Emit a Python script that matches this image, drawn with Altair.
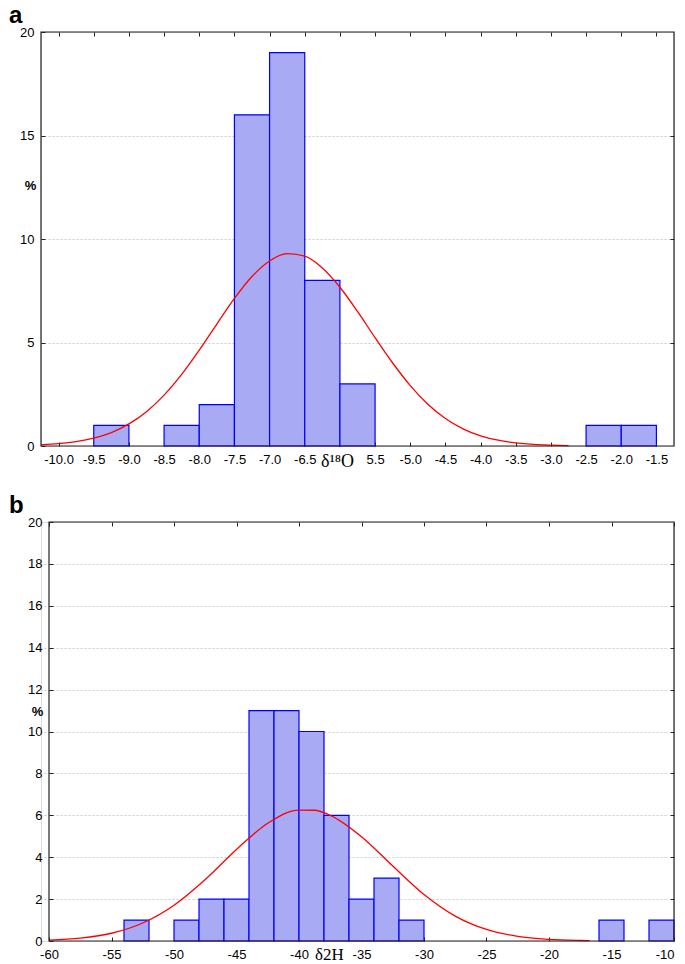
import altair as alt
import pandas as pd

# ---------------- panel a : δ18O ----------------
a_bin_start = [-9.5, -9.0, -8.5, -8.0, -7.5, -7.0, -6.5, -6.0, -5.5, -5.0,
               -4.5, -4.0, -3.5, -3.0, -2.5, -2.0]
a_counts = [1, 0, 1, 2, 16, 19, 8, 3, 0, 0, 0, 0, 0, 0, 1, 1]
a_bin_width = 0.5
a_curve_x = [-10.25, -10.0, -9.75, -9.5, -9.25, -9.0, -8.75, -8.5, -8.25, -8.0,
             -7.75, -7.5, -7.25, -7.0, -6.75, -6.5, -6.25, -6.0, -5.75, -5.5,
             -5.25, -5.0, -4.75, -4.5, -4.25, -4.0, -3.75, -3.5, -3.25, -3.0, -2.75]
a_curve_y = [0.055, 0.11, 0.21, 0.38, 0.65, 1.07, 1.66, 2.46, 3.46, 4.63,
             5.89, 7.13, 8.19, 8.94, 9.29, 9.17, 8.60, 7.67, 6.50, 5.23,
             4.01, 2.92, 2.02, 1.33, 0.83, 0.49, 0.28, 0.15, 0.076, 0.04, 0.02]
a_xticks = [-10.0, -9.5, -9.0, -8.5, -8.0, -7.5, -7.0, -6.5, -6.0, -5.5,
            -5.0, -4.5, -4.0, -3.5, -3.0, -2.5, -2.0, -1.5]
a_yticks = [0, 5, 10, 15, 20]
a_ygrid = [5, 10, 15]
a_xdomain = [-10.25, -1.25]

# ---------------- panel b : δ2H ----------------
b_bin_start = [-54, -52, -50, -48, -46, -44, -42, -40, -38, -36, -34, -32,
               -30, -28, -26, -24, -22, -20, -18, -16, -14, -12]
b_counts = [1, 0, 1, 2, 2, 11, 11, 10, 6, 2, 3, 1,
            0, 0, 0, 0, 0, 0, 0, 1, 0, 1]
b_bin_width = 2
b_curve_x = [-60, -57.5, -55, -52.5, -50, -47.5, -45, -42.5, -40, -38.75,
             -37.5, -35, -32.5, -30, -27.5, -25, -22.5, -20, -17.5, -16.75]
b_curve_y = [0.045, 0.14, 0.37, 0.86, 1.71, 2.94, 4.37, 5.62, 6.25, 6.24,
             6.0, 4.98, 3.58, 2.22, 1.19, 0.55, 0.22, 0.077, 0.023, 0.014]
b_xticks = [-60, -55, -50, -45, -40, -35, -30, -25, -20, -15, -10]
b_yticks = [0, 2, 4, 6, 8, 10, 12, 14, 16, 18, 20]
b_ygrid = [2, 4, 6, 8, 10, 12, 14, 16, 18]
b_xdomain = [-60, -10]

FILL = "#a9aaf4"
EDGE = "#0000ff"
FRAME = "#222222"
SANS = "Liberation Sans"
SERIF = "Liberation Serif"
GROUP_W = 633


def panel(starts, counts, bw, cx, cy, xdom, xrange, xticks, yticks, ygrid, h,
          label_expr, label_align, xtitle, xtitle_size, title_x, title_y,
          pct_x, pct_y, letter):
    bars = pd.DataFrame({"x0": starts,
                         "x1": [s + bw for s in starts],
                         "n": counts})
    bars = bars[bars["n"] > 0].copy()
    bars["zero"] = 0
    curve = pd.DataFrame({"x": cx, "y": cy})
    frame = pd.DataFrame({"x0": [xdom[0]], "x1": [xdom[1]],
                          "y0": [0], "y1": [20]})

    xs = alt.Scale(domain=xdom, range=xrange, nice=False, zero=False)
    ys = alt.Scale(domain=[0, 20], nice=False, zero=False)
    left_off = xrange[0] + 4

    bottom_axis = alt.Axis(
        orient="bottom", values=xticks, offset=-4, tickSize=4, minExtent=0,
        tickColor=FRAME, domain=False, grid=False,
        labelExpr=label_expr, labelFlush=False, labelOverlap=False,
        labelAlign=label_align,
        labelPadding=7, labelFont=SANS, labelFontSize=13, labelColor="#000000",
        title=xtitle, titleFont=SERIF, titleFontSize=xtitle_size,
        titleFontWeight="normal", titleColor="#000000",
        titleX=title_x, titleY=title_y, titleAlign="center",
        titleBaseline="alphabetic",
    )
    left_axis = alt.Axis(
        orient="left", values=yticks, offset=-left_off, tickSize=4, minExtent=0,
        tickColor=FRAME, domain=False, grid=False,
        labelPadding=7, labelFont=SANS, labelFontSize=13, labelColor="#000000",
        title="%", titleAngle=0, titleFont=SANS, titleFontSize=13,
        titleFontWeight="bold", titleColor="#000000",
        titleX=pct_x - left_off, titleY=pct_y, titleAlign="center",
        titleBaseline="middle",
    )
    top_axis = alt.Axis(
        orient="top", values=xticks, offset=-4, tickSize=4, minExtent=0,
        tickColor=FRAME, domain=False, grid=False, labels=False, title=None,
    )
    right_axis = alt.Axis(
        orient="right", values=ygrid, offset=-4, tickSize=4, minExtent=0,
        tickColor=FRAME, domain=False, labels=False, title=None,
        grid=True, gridColor="#cccccc", gridDash=[2, 2], gridWidth=1,
    )

    rect = alt.Chart(bars).mark_rect(
        fill=FILL, stroke=EDGE, strokeWidth=1.2
    ).encode(
        x=alt.X("x0:Q", scale=xs, axis=bottom_axis),
        x2="x1:Q",
        y=alt.Y("n:Q", scale=ys, axis=left_axis),
        y2="zero:Q",
    )
    line = alt.Chart(curve).mark_line(
        color="#ff0000", strokeWidth=1.3, interpolate="monotone"
    ).encode(
        x=alt.X("x:Q", scale=xs, axis=top_axis),
        y=alt.Y("y:Q", scale=ys, axis=right_axis),
    )
    box = alt.Chart(frame).mark_rect(
        fillOpacity=0, stroke=FRAME, strokeWidth=1.2
    ).encode(
        x=alt.X("x0:Q", scale=xs, axis=None),
        x2="x1:Q",
        y=alt.Y("y0:Q", scale=ys, axis=None),
        y2="y1:Q",
    )
    tag = alt.Chart(pd.DataFrame({"t": [letter]})).mark_text(
        align="left", baseline="alphabetic", fontSize=24, fontWeight="bold",
        font=SANS, color="#000000",
    ).encode(
        text="t:N", x=alt.value(-32), y=alt.value(-9),
    )
    return alt.layer(rect, line, box, tag).resolve_axis(
        x="independent", y="independent"
    ).properties(width=GROUP_W, height=h)


a_label_expr = ("datum.value == -6 ? '' : (datum.value == -5.5 ? '5.5' : "
                "replace(format(datum.value, '.1f'), '\u2212', '-'))")
b_label_expr = "replace(format(datum.value, 'd'), '\u2212', '-')"
b_label_align = {"condition": {"test": "datum.value == -10", "value": "right"},
                 "value": "center"}

pa = panel(a_bin_start, a_counts, a_bin_width, a_curve_x, a_curve_y,
           a_xdomain, [0, 633], a_xticks, a_yticks, a_ygrid, 414,
           a_label_expr, "center", "δ¹⁸O", 18, 296, 24, -11, 153, "a")
pb = panel(b_bin_start, b_counts, b_bin_width, b_curve_x, b_curve_y,
           b_xdomain, [8, 633], b_xticks, b_yticks, b_ygrid, 419,
           b_label_expr, b_label_align, "δ2H", 17, 288, 22, -4, 189, "b")

chart = alt.concat(pa, pb, columns=1, spacing=22).properties(
    padding={"top": -5, "left": 0, "right": 0, "bottom": 0},
).configure_view(
    stroke="transparent", strokeWidth=0
).configure(background="#ffffff")

chart.save("out.html", embed_options={"renderer": "svg", "actions": False})
